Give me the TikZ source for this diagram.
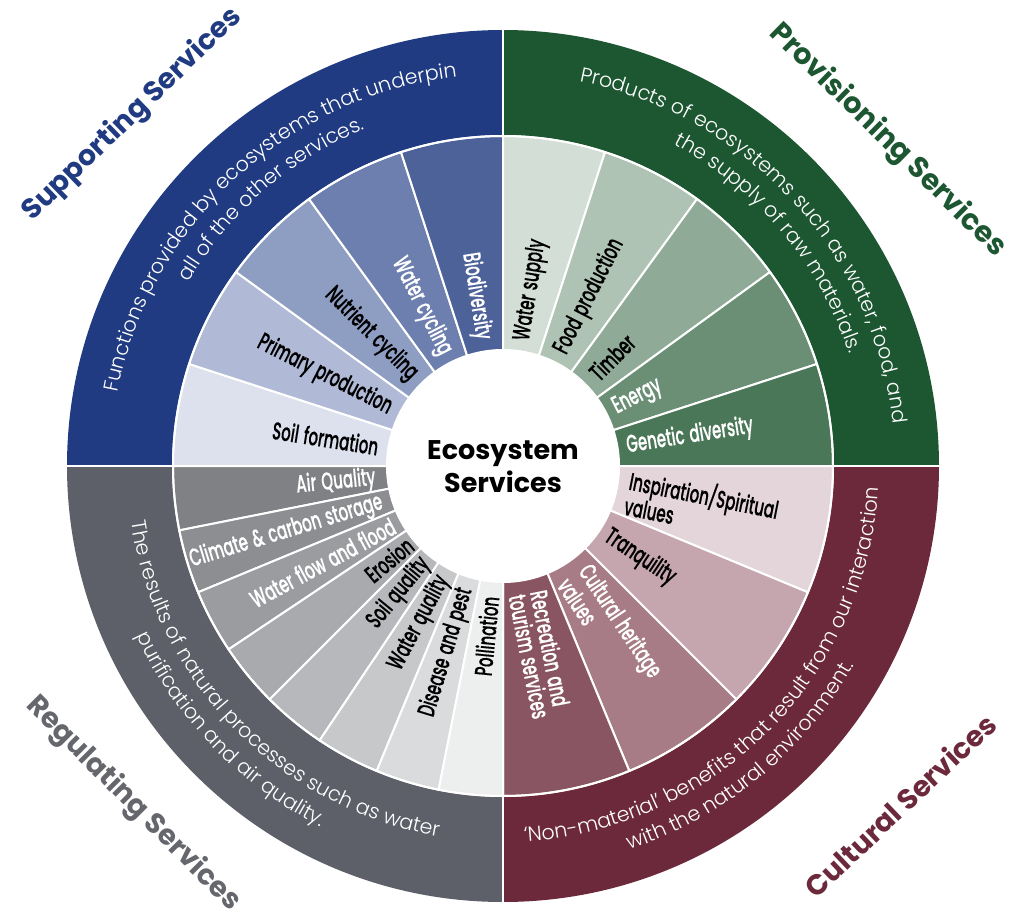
\documentclass[tikz,border=0pt]{standalone}
\usepackage{fontspec}
\usepackage{graphicx}
\usetikzlibrary{decorations.text}
\IfFontExistsTF{Poppins Light}{\newfontfamily\descfont{Poppins Light}}{\newfontfamily\descfont{Poppins}}
\IfFontExistsTF{Poppins Medium}{\newfontfamily\labfont[FakeStretch=0.615,FakeBold=0.35,WordSpace=1.3]{Poppins Medium}}{\newfontfamily\labfont[FakeStretch=0.615,FakeBold=0.5,WordSpace=1.3]{Poppins}}
\newfontfamily\ttlfont{Poppins}
\definecolor{supD}{HTML}{203B82}
\definecolor{proD}{HTML}{1D5732}
\definecolor{culD}{HTML}{6C293C}
\definecolor{regD}{HTML}{5D6068}
\definecolor{regT}{HTML}{65676D}
\definecolor{sup1}{HTML}{DDE1ED}
\definecolor{sup2}{HTML}{B0B9D6}
\definecolor{sup3}{HTML}{8E9DC2}
\definecolor{sup4}{HTML}{6D7FAE}
\definecolor{sup5}{HTML}{4E629A}
\definecolor{pro1}{HTML}{D3DED6}
\definecolor{pro2}{HTML}{AFC3B4}
\definecolor{pro3}{HTML}{8FAA97}
\definecolor{pro4}{HTML}{6A8F75}
\definecolor{pro5}{HTML}{4A7757}
\definecolor{cul1}{HTML}{E3D5D9}
\definecolor{cul2}{HTML}{C5A6AF}
\definecolor{cul3}{HTML}{A77C86}
\definecolor{cul4}{HTML}{8A5562}
\definecolor{reg1}{HTML}{7F8184}
\definecolor{reg2}{HTML}{8C8E92}
\definecolor{reg3}{HTML}{9A9C9F}
\definecolor{reg4}{HTML}{A8AAAD}
\definecolor{reg5}{HTML}{B7B8BB}
\definecolor{reg6}{HTML}{C7C8CA}
\definecolor{reg7}{HTML}{DADBDC}
\definecolor{reg8}{HTML}{EDEEEE}
\newcommand\dfmt{\descfont\fontsize{20.5pt}{24pt}\selectfont\color{white}}
\tikzset{
  lab/.style={font=\labfont\fontsize{24.5pt}{22pt}\selectfont, inner sep=0pt, align=left},
  labL/.style={lab, anchor=east},
  labR/.style={lab, anchor=west},
  ttl/.style={font=\ttlfont\bfseries\fontsize{27pt}{27pt}\selectfont, inner sep=0pt},
  seg/.style={fill=#1, draw=white, line width=2pt},
  divider/.style={draw=white, line width=2.5pt}
}
\begin{document}
\begin{tikzpicture}[x=1pt,y=1pt]
\useasboundingbox (-503pt,-452pt) rectangle (513pt,466pt);
\fill[white] (-503pt,-452pt) rectangle (513pt,466pt);
% outer quadrants
\fill[supD] (0,0) -- (90:436pt) arc[start angle=90,end angle=180,radius=436pt] -- cycle;
\fill[proD] (0,0) -- (0:436pt) arc[start angle=0,end angle=90,radius=436pt] -- cycle;
\fill[culD] (0,0) -- (-90:436pt) arc[start angle=-90,end angle=0,radius=436pt] -- cycle;
\fill[regD] (0,0) -- (180:436pt) arc[start angle=180,end angle=270,radius=436pt] -- cycle;
% segments
\foreach \a/\b/\c in {162/180/sup1,144/162/sup2,126/144/sup3,108/126/sup4,90/108/sup5,
  72/90/pro1,54/72/pro2,36/54/pro3,18/36/pro4,0/18/pro5,
  -22.5/0/cul1,-45/-22.5/cul2,-67.5/-45/cul3,-90/-67.5/cul4,
  180/191.25/reg1,191.25/202.5/reg2,202.5/213.75/reg3,213.75/225/reg4,
  225/236.25/reg5,236.25/247.5/reg6,247.5/258.75/reg7,258.75/270/reg8}
  \path[seg=\c] (0,0) -- (\a:330pt) arc[start angle=\a,end angle=\b,radius=330pt] -- cycle;
\draw[white, line width=2pt] (0,0) circle[radius=330pt];
\coordinate (O) at (0,0);
\coordinate (N) at (90:440pt);
\coordinate (S) at (-90:440pt);
\coordinate (E) at (0:440pt);
\coordinate (W) at (180:440pt);
\draw[divider] (N) -- (S);
\draw[divider] (W) -- (E);
\fill[white] (O) circle[radius=117pt];
\node[font=\ttlfont\bfseries\fontsize{27pt}{33pt}\selectfont, align=center, inner sep=0pt] (eco) at (0,-0.5pt) {Ecosystem\\Services};
% supporting labels
\node[labL, text=black, rotate=-9] (l1) at (171:126pt) {Soil formation};
\node[labL, text=black, rotate=-27] (l2) at (153:126pt) {Primary production};
\node[labL, text=black, rotate=-45] (l3) at (135:126pt) {Nutrient cycling};
\node[labL, text=white, rotate=-63] (l4) at (117:126pt) {Water cycling};
\node[labL, text=white, rotate=-81] (l5) at (99:128pt) {Biodiversity};
% provisioning labels
\node[labR, text=black, rotate=81] (p1) at (81:127pt) {Water supply};
\node[labR, text=black, rotate=63] (p2) at (63:127pt) {Food production};
\node[labR, text=black, rotate=45] (p3) at (45:127pt) {Timber};
\node[labR, text=white, rotate=27] (p4) at (27:125pt) {Energy};
\node[labR, text=white, rotate=9] (p5) at (9:125pt) {Genetic diversity};
% cultural labels
\node[labR, text=black, rotate=-11.25] (c1) at (-11.25:127pt) {Inspiration/Spiritual\\values};
\node[labR, text=black, rotate=-33.75] (c2) at (-33.75:124pt) {Tranquility};
\node[labR, text=white, rotate=-56.25] (c3) at (-56.25:129pt) {Cultural heritage\\values};
\node[labR, text=white, rotate=-78.75] (c4) at (-78.75:129pt) {Recreation and\\tourism services};
% regulating labels
\node[labL, text=white, rotate=5.625] (r1) at (185.625:128pt) {Air Quality};
\node[labL, text=white, rotate=16.875] (r2) at (196.875:126pt) {Climate \& carbon storage};
\node[labL, text=white, rotate=28.125] (r3) at (208.125:124pt) {Water flow and flood};
\node[labL, text=black, rotate=39.375] (r4) at (219.375:120pt) {Erosion};
\node[labL, text=black, rotate=50.625] (r5) at (230.625:122pt) {Soil quality};
\node[labL, text=black, rotate=61.875] (r6) at (241.875:126pt) {Water quality};
\node[labL, text=black, rotate=73.125] (r7) at (253.125:128pt) {Disease and pest};
\node[labL, text=black, rotate=84.375] (r8) at (264.375:131pt) {Pollination};
% descriptions
\path[decorate, decoration={text along path, text align=center,
  text={|\dfmt|Functions provided by ecosystems that underpin}}]
  (173:392pt) arc[start angle=173,end angle=93,radius=392pt];
\path[decorate, decoration={text along path, text align=center,
  text={|\dfmt|all of the other services.}}]
  (171:364pt) arc[start angle=171,end angle=91,radius=364pt];
\path[decorate, decoration={text along path, text align=center,
  text={|\dfmt|Products of ecosystems such as water, food, and}}]
  (82.5:392pt) arc[start angle=82.5,end angle=2.5,radius=392pt];
\path[decorate, decoration={text along path, text align=center,
  text={|\dfmt|the supply of raw materials.}}]
  (80:364pt) arc[start angle=80,end angle=0,radius=364pt];
\path[decorate, decoration={text along path, text align=center,
  text={|\dfmt|‘Non-material’ benefits that result from our interaction}}]
  (-95:376pt) arc[start angle=-95,end angle=5,radius=376pt];
\path[decorate, decoration={text along path, text align=center,
  text={|\dfmt|with the natural environment.}}]
  (-90.7:404pt) arc[start angle=-90.7,end angle=-10.7,radius=404pt];
\path[decorate, decoration={text along path, text align=center,
  text={|\dfmt|The results of natural processes such as water}}]
  (174.3:376pt) arc[start angle=174.3,end angle=274.3,radius=376pt];
\path[decorate, decoration={text along path, text align=center,
  text={|\dfmt|purification and air quality.}}]
  (184:404pt) arc[start angle=184,end angle=264,radius=404pt];
% titles
\node[ttl, text=supD, rotate=44] (tsup) at (-370.5pt,351pt) {\resizebox{292pt}{!}{Supporting Services}};
\node[ttl, text=proD, rotate=-44.5] (tpro) at (384.5pt,325.5pt) {\resizebox{318pt}{!}{Provisioning Services}};
\node[ttl, text=regT, rotate=-45] (treg) at (-370pt,-338pt) {\resizebox{290pt}{!}{Regulating Services}};
\node[ttl, text=culD, rotate=43.4] (tcul) at (397pt,-339pt) {\resizebox{250pt}{!}{Cultural Services}};
\end{tikzpicture}
\end{document}
